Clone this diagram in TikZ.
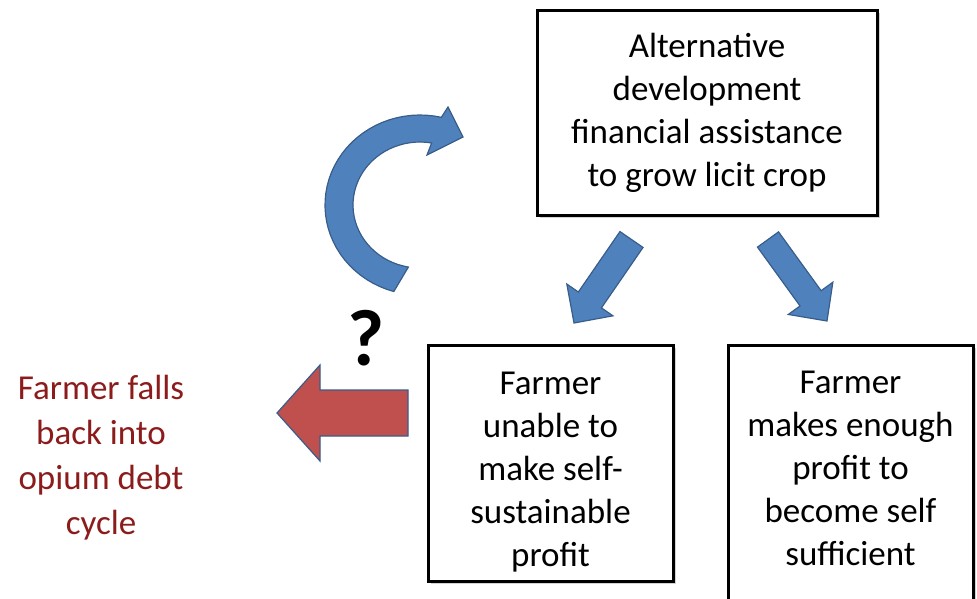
\documentclass[tikz,border=0pt]{standalone}
\usepackage{fontspec}
\setmainfont{Carlito}
\usetikzlibrary{calc,shadows}
\definecolor{arrowblue}{RGB}{79,129,189}
\definecolor{arrowred}{RGB}{192,80,77}
\definecolor{arrowedge}{RGB}{56,93,138}
\definecolor{debtred}{RGB}{140,28,28}
\tikzset{
  stagebox/.style={draw=black,line width=3pt,fill=white,align=center,inner sep=0pt,
    drop shadow={shadow xshift=3pt,shadow yshift=-3pt,opacity=0.35},
    font=\fontsize{35}{43}\selectfont},
  stagetext/.style={align=center,font=\fontsize{35}{43}\selectfont},
  blockedge/.style={draw=arrowedge,line width=1.2pt,line join=miter},
}
% block arrow: tail, tip, half shaft, half head, head length, fill
\newcommand{\blockarrow}[6]{%
  \coordinate (hb) at ($(#2)!#5!(#1)$);%
  \draw[blockedge,fill=#6] ($(#1)!#3!90:(#2)$) -- ($(hb)!#3!90:(#2)$)
    -- ($(hb)!#4!90:(#2)$) -- (#2) -- ($(hb)!#4!-90:(#2)$)
    -- ($(hb)!#3!-90:(#2)$) -- ($(#1)!#3!-90:(#2)$) -- cycle;%
}

\begin{document}
\begin{tikzpicture}[x=1pt,y=-1pt]
  \useasboundingbox (0,0) rectangle (977,598);
  \clip (0,0) rectangle (977,598);
  % boxes
  \node[stagebox,minimum width=340,minimum height=205] (alt) at (707,112.5)
    {Alternative\\development\\financial assistance\\to grow licit crop};
  \node[stagebox,minimum width=245,minimum height=236,
    label={[stagetext,yshift=-9pt]center:{Farmer\\unable to\\make self-\\sustainable\\profit}}]
    (unable) at (550.5,463) {};
  \node[stagebox,minimum width=245,minimum height=255,
    label={[stagetext,yshift=4pt]center:{Farmer\\makes enough\\profit to\\become self\\sufficient}}]
    (enough) at (850.5,472.5) {};
  \node[text=debtred,align=center,font=\fontsize{35}{45}\selectfont] (relapse) at (101,458)
    {Farmer falls\\back into\\opium debt\\cycle};
  \node[font=\bfseries\fontsize{80}{80}\selectfont] (doubt) at (366,338) {?};
  % arrows
  \coordinate (leftT) at (631.5,239.5);
  \coordinate (leftH) at (574,323);
  \coordinate (rightT) at (768,239.5);
  \coordinate (rightH) at (827,321);
  \coordinate (fallT) at (408,413);
  \coordinate (fallH) at (277,413);
  \blockarrow{leftT}{leftH}{14pt}{28pt}{28pt}{arrowblue}
  \blockarrow{rightT}{rightH}{13pt}{27.5pt}{28pt}{arrowblue}
  \blockarrow{fallT}{fallH}{23pt}{48pt}{43pt}{arrowred}
  \draw[blockedge,fill=arrowblue]
    plot[domain=106:283,samples=40] ({420+95*cos(\x)},{205+90*sin(\x)})
    -- (448,107) -- (463,137) -- (427,155)
    -- plot[domain=280:100,samples=40] ({420+67*cos(\x)},{205+63*sin(\x)}) -- cycle;
\end{tikzpicture}
\end{document}
